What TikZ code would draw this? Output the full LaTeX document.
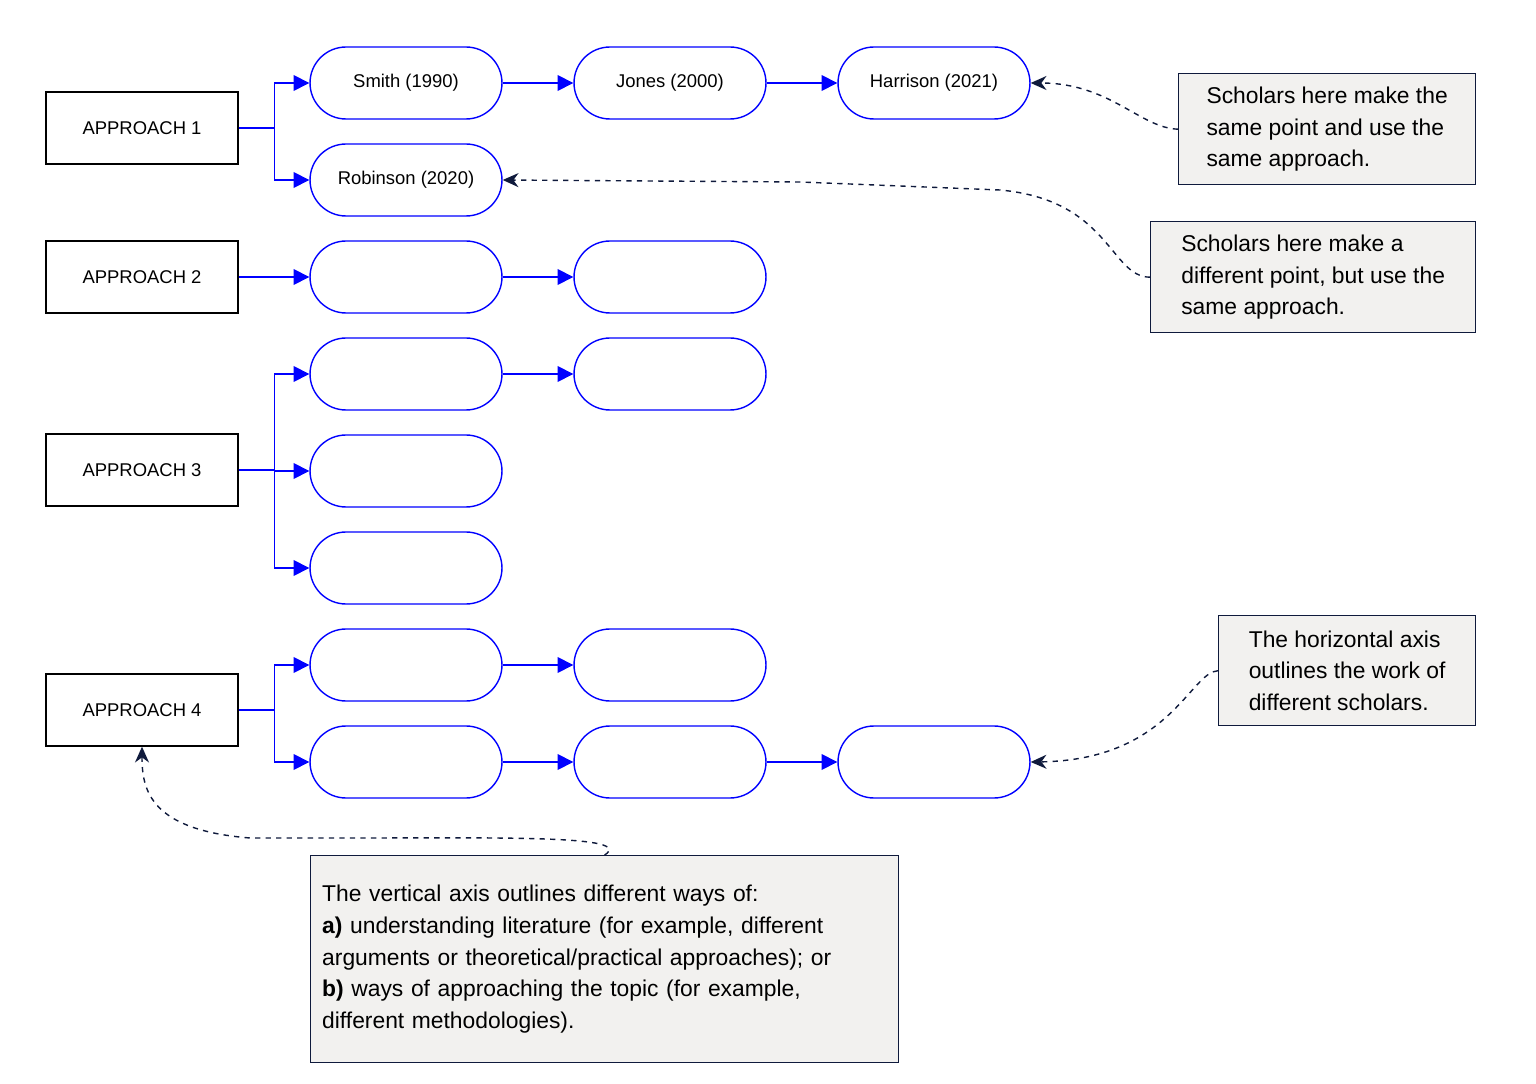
\documentclass[tikz,border=0pt]{standalone}
\usepackage{fontspec}
\setmainfont{Liberation Sans}
\usetikzlibrary{positioning, arrows.meta}
\definecolor{navy}{HTML}{0F1A3C}
\definecolor{notebg}{HTML}{F2F1EF}
\begin{document}
\begin{tikzpicture}[x=0.02cm, y=-0.02cm]
	\tikzset{approach/.style = {draw, thick, minimum width=3.84cm, minimum height=1.44cm, font={\fontsize{10.5}{12}\selectfont}}}
	\tikzset{scholar/.style = {draw=blue, thick, rounded corners=0.72cm, minimum width=3.84cm, minimum height=1.44cm, font={\fontsize{10.5}{12}\selectfont}}}
	\tikzset{note/.style = {draw=navy, thick, fill=notebg, align=left, inner sep=5pt, font={\fontsize{13}{18}\selectfont}}}
	\tikzset{link/.style = {->, >={Triangle[length=9pt, width=9pt]}, blue, thick}}
	\tikzset{remark/.style = {->, >={Stealth[length=9pt, width=8pt]}, navy, thick, dashed}}

	\useasboundingbox (0,0) rectangle (1536,1084);

	% approaches
	\node[approach] (a1) at (142,128) {APPROACH 1};
	\node[approach] (a2) at (142,277) {APPROACH 2};
	\node[approach] (a3) at (142,470) {APPROACH 3};
	\node[approach] (a4) at (142,710) {APPROACH 4};

	% scholars
	\foreach \name/\x/\y/\txt in {s11/406/83/Smith (1990), s12/670/83/Jones (2000), s13/934/83/Harrison (2021),
		s21/406/180/Robinson (2020), p11/406/277/, p12/670/277/, q11/406/374/, q12/670/374/,
		q21/406/471/, q31/406/568/, r11/406/665/, r12/670/665/, r21/406/762/, r22/670/762/, r23/934/762/} {
		\node[scholar] (\name) at (\x,\y) {\txt};
	}

	% forks
	\foreach \a/\b in {a1/s11, a1/s21, a3/q11, a3/q21, a3/q31, a4/r11, a4/r21} {
		\draw[link] (\a.east) -- ++(36,0) |- (\b.west);
	}
	\draw[link] (a2) -- (p11);
	\foreach \a/\b in {s11/s12, s12/s13, p11/p12, q11/q12, r11/r12, r21/r22, r22/r23} {
		\draw[link] (\a) -- (\b);
	}

	% notes
	\node[note, minimum width=5.94cm, minimum height=2.22cm, anchor=north west] (n1) at (1178,73)
		{Scholars here make the\\same point and use the\\same approach.};
	\node[note, minimum width=6.5cm, minimum height=2.22cm, anchor=north west] (n2) at (1150,221)
		{Scholars here make a\\different point, but use the\\same approach.};
	\node[note, minimum width=5.14cm, minimum height=2.2cm, anchor=north west] (n3) at (1218,615)
		{The horizontal axis\\outlines the work of\\different scholars.};
	\node[note, minimum width=11.76cm, minimum height=4.14cm, anchor=north west, text width=11.3cm] (n4) at (310,855)
		{The vertical axis outlines different ways of:\\\textbf{a)} understanding literature (for example, different\\arguments or theoretical/practical approaches); or\\\textbf{b)} ways of approaching the topic (for example,\\different methodologies).};

	\draw[remark] (n1.west) .. controls (1140,128) and (1110,83) .. (s13.east);
	\draw[remark] (n2.west) .. controls (1110,277) and (1110,200) .. (1000,190) -- (800,182) -- (s21.east);
	\draw[remark] (n3.west) .. controls (1190,672) and (1170,760) .. (r23.east);
	\draw[remark] (n4.north) .. controls (636,835) and (500,838) .. (350,838) -- (250,838) .. controls (150,830) and (142,790) .. (a4.south);
\end{tikzpicture}
\end{document}
